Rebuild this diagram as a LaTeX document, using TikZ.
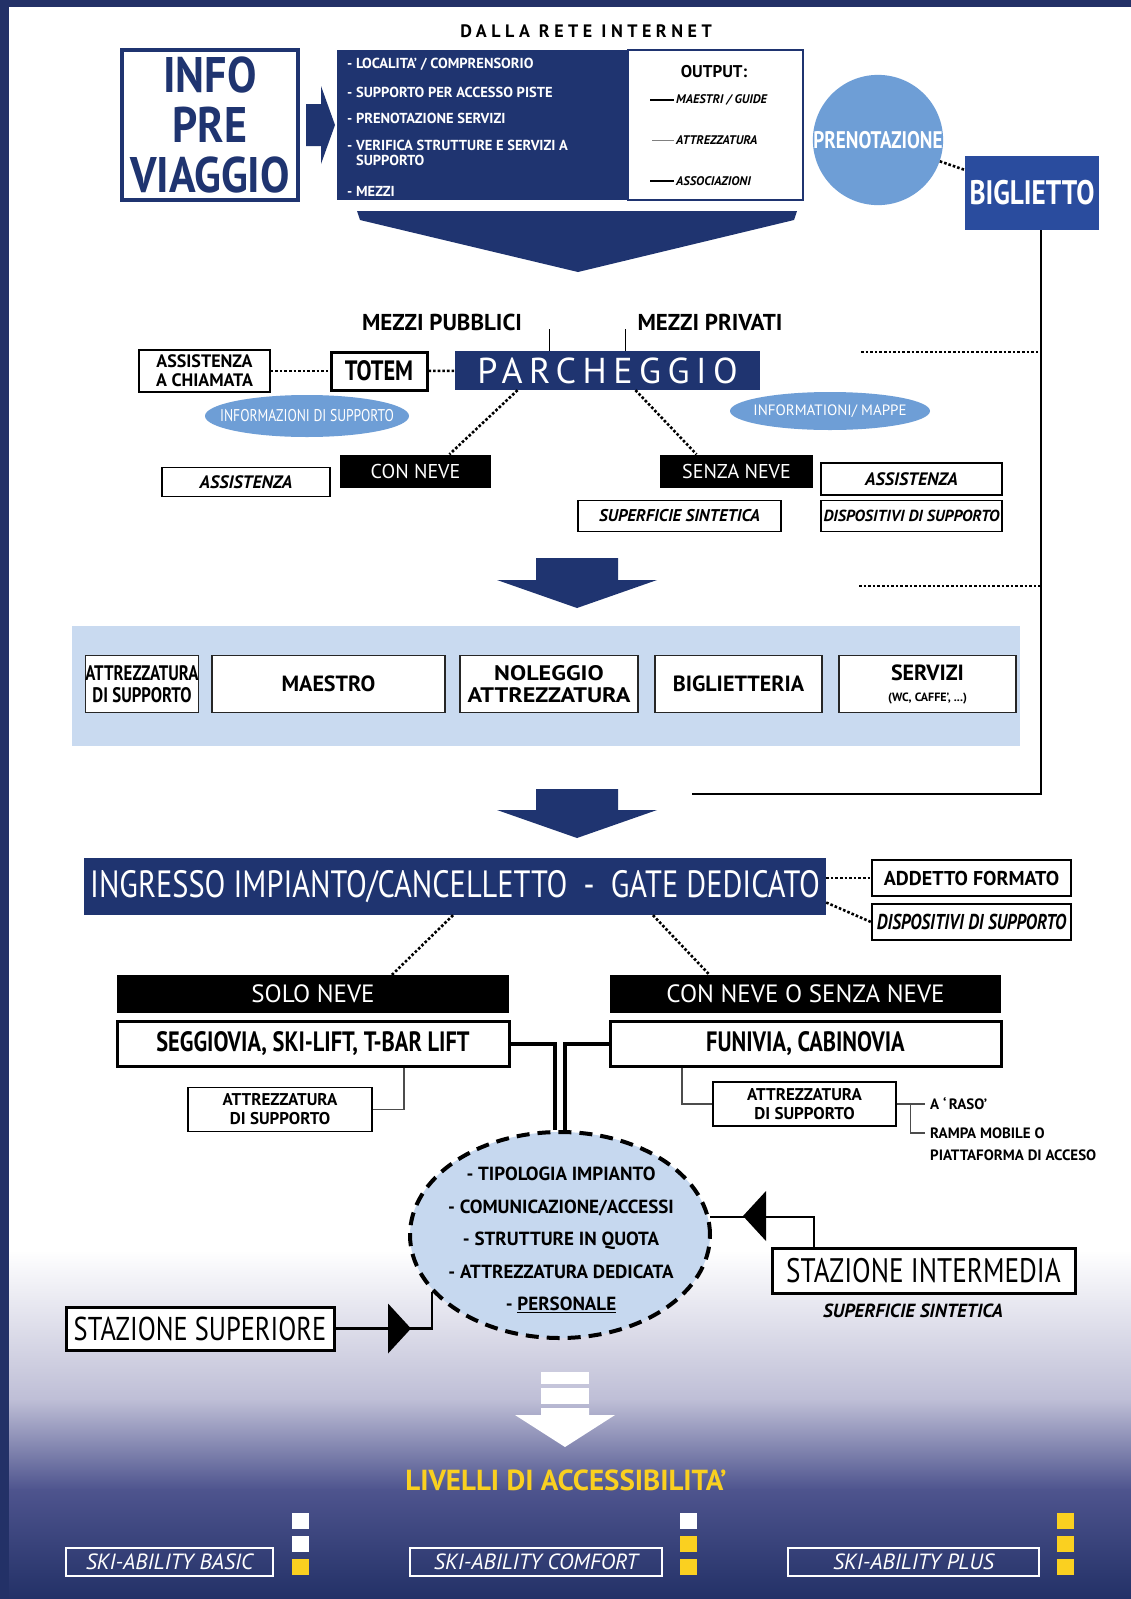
\documentclass[tikz,border=0pt]{standalone}
\usepackage{fontspec}
\usepackage{tikz}
\usetikzlibrary{shapes.geometric,positioning}
\setmainfont[FakeStretch=0.8]{PT Sans}
\newfontfamily\wide[Ligatures=TeX]{PT Sans}
\newfontfamily\cond[Ligatures=TeX,FakeStretch=0.88]{PT Sans}
\newfontfamily\ext[Ligatures=TeX,FakeStretch=1.15]{PT Sans}
\newcommand{\fsz}[1]{\fontsize{#1}{#1}\selectfont}

\definecolor{bgnavy}{RGB}{35,49,103}
\definecolor{boxnavy}{RGB}{31,52,112}
\definecolor{bigblue}{RGB}{42,76,158}
\definecolor{lightblue}{RGB}{110,158,214}
\definecolor{bandblue}{RGB}{201,218,240}
\definecolor{ellblue}{RGB}{198,216,239}
\definecolor{lavender}{RGB}{190,190,214}
\definecolor{midnavy}{RGB}{78,84,142}
\definecolor{skiyellow}{RGB}{250,208,32}

\tikzset{
  every node/.style={inner sep=0pt},
  navybox/.style={fill=boxnavy, text=white},
  blackbox/.style={fill=black, text=white},
  thinbox/.style={draw=black, line width=1.3pt, fill=white},
  thickbox/.style={draw=black, line width=3pt, fill=white},
  svcbox/.style={draw=black!85, line width=1.6pt, fill=white, align=center, minimum height=57pt, font={\bfseries\fontsize{21}{22}\selectfont}},
  lvlbox/.style={draw=white, line width=1.3pt, text=white, minimum height=28pt, font={\wide\itshape\fsz{22}}},
  dotline/.style={line width=2.6pt, dash pattern=on 2.6pt off 2pt},
  oval/.style={ellipse, fill=lightblue},
  sqw/.style={fill=white, minimum width=17pt, minimum height=16pt},
  sqy/.style={fill=skiyellow, minimum width=17pt, minimum height=16pt},
  thinline/.style={line width=1.1pt, draw=black!70},
  conn/.style={line width=2.2pt},
}

\begin{document}
\begin{tikzpicture}[x=1pt,y=-1pt]
\useasboundingbox (0,0) rectangle (1131,1599);

% background
\fill[bgnavy] (0,0) rectangle (1131,1599);
\fill[white] (9,7) rectangle (1131,1599);
\shade[top color=white, bottom color=lavender] (9,1250) rectangle (1131,1400);
\shade[top color=lavender, bottom color=midnavy] (9,1399.5) rectangle (1131,1490);
\shade[top color=midnavy, bottom color=bgnavy] (9,1489.5) rectangle (1131,1599);

% info pre viaggio
\node[font={\wide\bfseries\fsz{18}\addfontfeature{LetterSpace=25}}] (dalla) at (586,31) {DALLA RETE INTERNET};
\node[draw=boxnavy, line width=3.5pt, fill=white, minimum width=176pt, minimum height=150pt, align=center, text=boxnavy, font={\cond\bfseries\fontsize{50}{50}\selectfont}] (info) at (210,125) {INFO\\PRE\\VIAGGIO};
\fill[boxnavy] (306,104) -- (321,104) -- (321,86) -- (335,125) -- (321,164) -- (321,146) -- (306,146) -- cycle;

\node[draw=boxnavy, line width=2.5pt, fill=white, minimum width=175pt, minimum height=150pt] (listr) at (715.5,125) {};
\node[navybox, minimum width=291pt, minimum height=150pt] (listl) at (482.5,125) {};
\node[anchor=west, text=white, font={\wide\bfseries\fsz{14.5}}] (it1) at (347,64) {- LOCALITA' / COMPRENSORIO};
\node[anchor=west, text=white, font={\wide\bfseries\fsz{14.5}}] (it2) at (347,92) {- SUPPORTO PER ACCESSO PISTE};
\node[anchor=west, text=white, font={\wide\bfseries\fsz{14.5}}] (it3) at (347,118) {- PRENOTAZIONE SERVIZI};
\node[anchor=west, text=white, align=left, font={\wide\bfseries\fontsize{14.5}{14.5}\selectfont}] (it4) at (347,153) {- VERIFICA STRUTTURE E SERVIZI A\\\phantom{- }SUPPORTO};
\node[anchor=west, text=white, font={\wide\bfseries\fsz{14.5}}] (it5) at (347,191) {- MEZZI};

\node[font={\wide\bfseries\fsz{17}}] (outp) at (714,72) {OUTPUT:};
\node[anchor=west, font={\wide\bfseries\itshape\fsz{12.5}}] (outm) at (676,100) {MAESTRI / GUIDE};
\node[anchor=west, font={\wide\bfseries\itshape\fsz{12.5}}] (outa) at (676,140) {ATTREZZATURA};
\node[anchor=west, font={\wide\bfseries\itshape\fsz{12.5}}] (outs) at (676,181) {ASSOCIAZIONI};
\draw[line width=1.2pt] ([xshift=-2pt]outm.west) -- ++(-24,0);
\draw[line width=1pt, black!50] ([xshift=-2pt]outa.west) -- ++(-22,0);
\draw[line width=1.2pt] ([xshift=-2pt]outs.west) -- ++(-24,0);

\fill[boxnavy] (357,211) -- (797,211) -- (794,220) -- (578,272) -- (360,220) -- cycle;

% prenotazione / biglietto
\node[circle, fill=lightblue, minimum size=130pt, text=white, font={\bfseries\fsz{24}}] (prenot) at (878,140) {PRENOTAZIONE};
\node[fill=bigblue, minimum width=134pt, minimum height=74pt, text=white, font={\bfseries\fsz{34}}] (bigl) at (1032,193) {BIGLIETTO};
\draw[dotline] (prenot) -- (bigl);
\coordinate (retend) at (692,794);
\draw[conn] ([xshift=9pt]bigl.south) |- (retend);
\draw[dotline] (861,352) -- (1040,352);
\draw[dotline] (859,586) -- (1040,586);

% parcheggio
\node[font={\wide\bfseries\fsz{23}}] (mpub) at (442,322) {MEZZI PUBBLICI};
\node[font={\wide\bfseries\fsz{23}}] (mpriv) at (710,322) {MEZZI PRIVATI};
\node[navybox, minimum width=305pt, minimum height=39pt, font={\wide\fsz{36}\addfontfeature{LetterSpace=18}}] (parch) at (607.5,370.5) {PARCHEGGIO};
\draw[line width=1.4pt] ([xshift=-58pt]parch.north) -- ++(0,-22);
\draw[line width=1.4pt] ([xshift=18pt]parch.north) -- ++(0,-22);
\node[thickbox, minimum width=96pt, minimum height=38pt, font={\bfseries\fsz{28}}] (totem) at (379,371) {TOTEM};
\node[thinbox, minimum width=131pt, minimum height=42pt, align=center, font={\wide\bfseries\fontsize{18}{19}\selectfont}] (asschi) at (204.5,371) {ASSISTENZA\\A CHIAMATA};
\draw[dotline] (asschi) -- (totem);
\draw[dotline] (totem) -- (parch);
\node[oval, minimum width=204pt, minimum height=42pt, label={[text=white, font=\fsz{17}]center:INFORMAZIONI DI SUPPORTO}] (ovall) at (307,416) {};
\node[oval, minimum width=200pt, minimum height=38pt, label={[text=white, font={\wide\fsz{15}}]center:INFORMATIONI/ MAPPE}] (ovalr) at (830,411) {};

\node[blackbox, minimum width=151pt, minimum height=33pt, font={\wide\fsz{20}}] (conneve) at (415.5,471) {CON NEVE};
\node[thinbox, minimum width=168pt, minimum height=29pt, font={\wide\bfseries\itshape\fsz{18}}] (assl) at (246,482) {ASSISTENZA};
\node[blackbox, minimum width=153pt, minimum height=33pt, font={\wide\fsz{20}}] (senza) at (736.5,471) {SENZA NEVE};
\node[thinbox, minimum width=181pt, minimum height=32pt, font={\wide\bfseries\itshape\fsz{18}}] (assr) at (911.5,479) {ASSISTENZA};
\node[thinbox, minimum width=203pt, minimum height=31pt, font={\wide\bfseries\itshape\fsz{17}}] (superf) at (679.5,516) {SUPERFICIE SINTETICA};
\node[thinbox, minimum width=181pt, minimum height=31pt, font={\wide\bfseries\itshape\fsz{16}}] (dispa) at (911.5,516) {DISPOSITIVI DI SUPPORTO};
\draw[dotline] ([xshift=-90pt]parch.south) -- ([xshift=34pt]conneve.north);
\draw[dotline] ([xshift=28pt]parch.south) -- ([xshift=-40pt]senza.north);

\fill[boxnavy] (536,558) -- (618,558) -- (618,580) -- (657,580) -- (577,608) -- (497,580) -- (536,580) -- cycle;

% servizi
\fill[bandblue] (72,626) rectangle (1020,746);
\node[svcbox, minimum width=110pt] (sv1) at (142,684) {ATTREZZATURA\\DI SUPPORTO};
\node[svcbox, minimum width=233pt, font={\wide\bfseries\fsz{22}}] (sv2) at (328.5,684) {MAESTRO};
\node[svcbox, minimum width=178pt, font={\ext\bfseries\fontsize{21}{22}\selectfont}] (sv3) at (549,684) {NOLEGGIO\\ATTREZZATURA};
\node[svcbox, minimum width=167pt, font={\wide\bfseries\fsz{22}}] (sv4) at (738.5,684) {BIGLIETTERIA};
\node[svcbox, minimum width=177pt, font={\wide\bfseries\fontsize{22}{21}\selectfont}] (sv5) at (927.5,684) {SERVIZI\\{\fsz{12}(WC, CAFFE', ...)}};

\fill[boxnavy] (536,789) -- (618,789) -- (618,810) -- (657,810) -- (577,838) -- (497,810) -- (536,810) -- cycle;

% ingresso impianto
\node[navybox, minimum width=742pt, minimum height=57pt, font=\fsz{38}] (ingr) at (455,886.5) {INGRESSO IMPIANTO/CANCELLETTO \ - \ GATE DEDICATO};
\node[thinbox, line width=2pt, minimum width=199pt, minimum height=36pt, font={\wide\bfseries\fsz{20}}] (addetto) at (971.5,878) {ADDETTO FORMATO};
\node[thinbox, line width=2pt, minimum width=199pt, minimum height=36pt, font={\bfseries\itshape\fsz{21.5}}] (dispb) at (971.5,922) {DISPOSITIVI DI SUPPORTO};
\draw[dotline] (ingr.east |- addetto.west) -- (addetto.west);
\draw[dotline] ([yshift=-16pt]ingr.east) -- (dispb.west);

\node[blackbox, minimum width=392pt, minimum height=38pt, font={\wide\fsz{25}}] (solo) at (313,994) {SOLO NEVE};
\node[blackbox, minimum width=391pt, minimum height=38pt, font={\wide\fsz{25}}] (consn) at (805.5,994) {CON NEVE O SENZA NEVE};
\node[thickbox, minimum width=392pt, minimum height=45pt, font={\bfseries\fsz{28}}] (segg) at (313,1043.5) {SEGGIOVIA, SKI-LIFT, T-BAR LIFT};
\node[thickbox, minimum width=391pt, minimum height=45pt, font={\bfseries\fsz{28}}] (funiv) at (805.5,1043.5) {FUNIVIA, CABINOVIA};
\draw[dotline] ([xshift=-2pt]ingr.south) -- ([xshift=79pt]solo.north);
\draw[dotline] ([xshift=198pt]ingr.south) -- ([xshift=-96pt]consn.north);

\node[thinbox, line width=1.1pt, minimum width=184pt, minimum height=44pt, align=center, font={\wide\bfseries\fontsize{17}{19}\selectfont}] (attl) at (280,1109.5) {ATTREZZATURA\\DI SUPPORTO};
\node[thinbox, line width=1.1pt, minimum width=183pt, minimum height=44pt, align=center, font={\wide\bfseries\fontsize{17}{19}\selectfont}] (attr) at (804.5,1104) {ATTREZZATURA\\DI SUPPORTO};
\draw[thinline] ([xshift=91pt]segg.south) |- (attl.east);
\draw[thinline] ([xshift=-123.5pt]funiv.south) |- (attr.west);
\node[anchor=west, font={\wide\bfseries\fsz{15}}] (araso) at (930,1104) {A `\,RASO'};
\node[anchor=west, font={\wide\bfseries\fsz{15}}] (rampa) at (930,1133) {RAMPA MOBILE O};
\node[anchor=west, font={\wide\bfseries\fsz{15}}] (piatt) at (930,1155) {PIATTAFORMA DI ACCESO};
\draw[thinline] (attr.east) -- ([xshift=-5pt]araso.west);
\draw[thinline] ([xshift=14pt]attr.east) |- ([xshift=-5pt]rampa.west);

% caratteristiche impianto
\node[ellipse, draw=black, line width=4pt, dash pattern=on 13pt off 8pt, fill=ellblue, minimum width=300pt, minimum height=206pt] (ell) at (560,1235) {};
\node[align=center, font={\wide\bfseries\fontsize{19}{32.5}\selectfont}] (elltxt) at (561,1240) {- TIPOLOGIA IMPIANTO\\- COMUNICAZIONE/ACCESSI\\- STRUTTURE IN QUOTA\\- ATTREZZATURA DEDICATA\\- \underline{PERSONALE}};
\draw[line width=4pt] (segg.east) -| ([xshift=-5pt]ell.north);
\draw[line width=4pt] (funiv.west) -| ([xshift=5pt]ell.north);

\node[thickbox, minimum width=303pt, minimum height=45pt, font=\fsz{34}] (stint) at (923.5,1270.5) {STAZIONE INTERMEDIA};
\node[font={\wide\bfseries\itshape\fsz{19}}] (stsup) at (913,1311) {SUPERFICIE SINTETICA};
\draw[conn] ([xshift=-109.5pt]stint.north) |- (ell.7);
\fill (743,1216) -- (766,1191) -- (766,1241) -- cycle;

\node[thickbox, minimum width=268pt, minimum height=43pt, font=\fsz{33}] (supr) at (200,1328.5) {STAZIONE SUPERIORE};
\draw[conn] (supr.east) -| (ell.204);
\fill (411,1328.5) -- (388,1303.5) -- (388,1353.5) -- cycle;

% livelli
\fill[white] (541,1372) rectangle (589,1384);
\fill[white] (541,1388) rectangle (589,1404);
\fill[white] (541,1408) -- (589,1408) -- (589,1415) -- (615,1415) -- (565,1447) -- (515,1415) -- (541,1415) -- cycle;
\node[text=skiyellow, font={\wide\bfseries\fsz{29}}] (livelli) at (566,1480) {LIVELLI DI ACCESSIBILITA'};

\node[lvlbox, minimum width=207pt] (basic) at (169.5,1562) {SKI-ABILITY BASIC};
\node[lvlbox, minimum width=252pt] (comfort) at (536,1562) {SKI-ABILITY COMFORT};
\node[lvlbox, minimum width=251pt] (plus) at (913.5,1562) {SKI-ABILITY PLUS};
\node[sqw] (ba1) at (300.5,1520.5) {};
\node[sqw] (ba2) at (300.5,1543.5) {};
\node[sqy] (ba3) at (300.5,1566.5) {};
\node[sqw] (co1) at (688.5,1520.5) {};
\node[sqy] (co2) at (688.5,1543.5) {};
\node[sqy] (co3) at (688.5,1566.5) {};
\node[sqy] (pl1) at (1065,1520.5) {};
\node[sqy] (pl2) at (1065,1543.5) {};
\node[sqy] (pl3) at (1065,1566.5) {};
\end{tikzpicture}
\end{document}
